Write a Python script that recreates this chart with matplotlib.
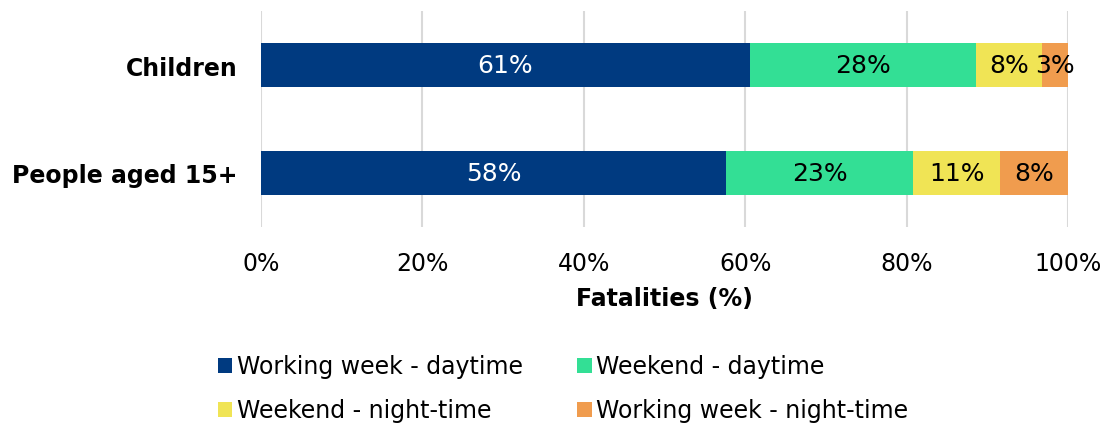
import numpy as np
import matplotlib.pyplot as plt

# Share of fatalities by time of crash
groups = ['Children', 'People aged 15+']
series = ['Working week - daytime', 'Weekend - daytime',
          'Weekend - night-time', 'Working week - night-time']
work_day = [60.6, 57.6]
weekend_day = [28.0, 23.2]
weekend_night = [8.2, 10.8]
work_night = [3.2, 8.4]

colors = ['#003A80', '#33DF95', '#F0E455', '#F09C4E']
text_colors = ['white', 'black', 'black', 'black']

plt.rcParams['font.family'] = 'DejaVu Sans'
fs = 17
fig = plt.figure(figsize=(11.09, 4.27), dpi=100)
ax = fig.add_axes([261 / 1109, 1 - 228 / 427, (1068 - 261) / 1109, 216 / 427])

y = np.arange(len(groups))
left = np.zeros(len(groups))
handles = []
for vals, name, c, tc in zip([work_day, weekend_day, weekend_night, work_night],
                             series, colors, text_colors):
    vals = np.array(vals)
    bars = ax.barh(y, vals, left=left, height=0.4, color=c, label=name, zorder=3)
    handles.append(bars)
    for yi, l, v in zip(y, left, vals):
        ax.text(l + v / 2, yi, f'{round(v):.0f}%', ha='center', va='center',
                color=tc, fontsize=18, zorder=4)
    left += vals

ax.set_xlim(0, 100)
ax.set_ylim(1.5, -0.5)
ax.set_yticks(y)
ax.set_yticklabels(groups, fontsize=fs, fontweight='bold')
ax.set_xticks(np.arange(0, 101, 20))
ax.set_xticklabels([f'{t}%' for t in range(0, 101, 20)], fontsize=fs)
ax.tick_params(length=0, pad=17, axis='y')
ax.tick_params(length=0, pad=17, axis='x')
ax.xaxis.grid(True, color='#D9D9D9', linewidth=1.5, zorder=0)
for s in ax.spines.values():
    s.set_visible(False)
ax.set_xlabel('Fatalities (%)', fontsize=fs, fontweight='bold', labelpad=8)

order = [0, 2, 1, 3]
fig.legend(handles=[handles[i] for i in order], labels=[series[i] for i in order],
           ncol=2, loc='center', bbox_to_anchor=(0.508, 0.088), frameon=False,
           fontsize=fs, handlelength=0.6, handleheight=0.6, handletextpad=0.2,
           columnspacing=2.3, labelspacing=0.85)

fig.savefig('out.png')
